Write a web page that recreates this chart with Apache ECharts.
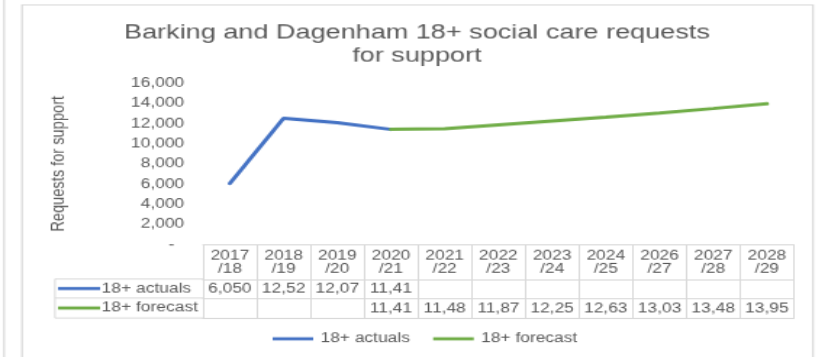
<!DOCTYPE html>
<html>
<head>
<meta charset="utf-8">
<script src="https://cdn.jsdelivr.net/npm/echarts@6/dist/echarts.min.js"></script>
<style>
  html, body { margin: 0; padding: 0; background: #fff; width: 820px; height: 357px; overflow: hidden; }
  /* chart is laid out at its natural size and stretched to fill the page */
  #chart { width: 565.5px; height: 324.5px; transform: scale(1.45, 1.1); transform-origin: 0 0; }
</style>
</head>
<body>
<div id="chart"></div>
<script>
// Financial years shown on the category axis / data table header
const categories = ['2017\n/18', '2018\n/19', '2019\n/20', '2020\n/21', '2021\n/22', '2022\n/23',
                    '2023\n/24', '2024\n/25', '2026\n/27', '2027\n/28', '2028\n/29'];
const seriesNames = ['18+ actuals', '18+ forecast'];
// Requests for support (adults 18+)
const actuals  = [6050, 12520, 12070, 11410, null, null, null, null, null, null, null];
const forecast = [null, null, null, 11410, 11480, 11870, 12250, 12630, 13030, 13480, 13950];
// Value axis ticks
const yTicks = [0, 2000, 4000, 6000, 8000, 10000, 12000, 14000, 16000];

const grey = '#595959';
const rule = '#d9d9d9';
const blue = '#4472C4';
const green = '#70AD47';
const font = "'Liberation Sans', Arial, sans-serif";

const fmt = v => (v == null ? '' : v.toLocaleString('en-GB'));

// Horizontal rules of the data table are extra category axes placed under the grid
function tableAxis(offset, values, margin) {
  return {
    type: 'category', data: categories, gridIndex: 0, position: 'bottom', offset: offset,
    axisLine: { show: true, lineStyle: { color: rule, width: 1 } },
    axisTick: { show: false },
    splitLine: { show: false },
    axisLabel: values ? {
      show: true, interval: 0, margin: margin, color: grey, fontSize: 12, fontFamily: font,
      width: 34, overflow: 'truncate', ellipsis: '',
      formatter: (v, i) => fmt(values[i])
    } : { show: false }
  };
}

// Table layout (chart coordinates)
const tblLeft = 37.9, tblRight = 140;
const rowTop = 221.8, row1 = 253.6, row2 = 270.9, row3 = 289.1;

const chart = echarts.init(document.getElementById('chart'));
chart.setOption({
  animation: false,
  backgroundColor: '#fff',
  textStyle: { fontFamily: font },
  title: {
    text: 'Barking and Dagenham 18+ social care requests\nfor support',
    left: 282.5, top: 14.5, textAlign: 'center',
    textStyle: { color: grey, fontSize: 18.67, fontWeight: 'normal', fontFamily: font, lineHeight: 21 }
  },
  legend: {
    data: seriesNames, left: 188, top: 302, padding: 0,
    icon: 'rect', itemWidth: 28, itemHeight: 2.8, itemGap: 16,
    textStyle: { color: grey, fontSize: 12, fontFamily: font }
  },
  grid: { left: 140, right: 18.6, top: 75.5, bottom: 102.7, containLabel: false },
  xAxis: [
    {
      type: 'category', data: categories, position: 'bottom',
      axisLine: { show: true, lineStyle: { color: rule, width: 1 } },
      axisTick: { show: true, interval: 0, length: row3 - rowTop, lineStyle: { color: rule, width: 1 } },
      splitLine: { show: false },
      axisLabel: { interval: 0, margin: 4, color: grey, fontSize: 12, fontFamily: font, lineHeight: 12.5 }
    },
    tableAxis(row1 - rowTop, actuals, 3),
    tableAxis(row2 - rowTop, forecast, 3),
    tableAxis(row3 - rowTop, null, 0)
  ],
  yAxis: {
    type: 'value', min: yTicks[0], max: yTicks[yTicks.length - 1], interval: yTicks[1] - yTicks[0],
    axisLine: { show: false }, axisTick: { show: false }, splitLine: { show: false },
    axisLabel: {
      color: grey, fontSize: 12, fontFamily: font, margin: 13,
      formatter: v => (v === 0 ? '-  ' : v.toLocaleString('en-GB'))
    },
    name: 'Requests for support', nameLocation: 'middle', nameGap: 93, nameRotate: 90,
    nameTextStyle: { color: grey, fontSize: 13.3, fontFamily: font }
  },
  series: [
    {
      name: seriesNames[0], type: 'line', data: actuals, xAxisIndex: 0,
      showSymbol: false, symbol: 'none', connectNulls: false,
      lineStyle: { color: blue, width: 3, cap: 'round' }, itemStyle: { color: blue }
    },
    {
      name: seriesNames[1], type: 'line', data: forecast, xAxisIndex: 0,
      showSymbol: false, symbol: 'none', connectNulls: false,
      lineStyle: { color: green, width: 3, cap: 'round' }, itemStyle: { color: green }
    }
  ],
  graphic: [
    // chart frame and the neighbouring frame edge
    { type: 'line', shape: { x1: 2.8, y1: 0, x2: 2.8, y2: 330 }, style: { stroke: rule, lineWidth: 1.2 }, silent: true },
    { type: 'rect', shape: { x: 15.2, y: 4.5, width: 545.5, height: 330 }, style: { fill: null, stroke: rule, lineWidth: 1.2 }, silent: true },
    // series-key column of the data table
    { type: 'line', shape: { x1: tblLeft, y1: row1, x2: tblRight, y2: row1 }, style: { stroke: rule, lineWidth: 1 }, silent: true },
    { type: 'line', shape: { x1: tblLeft, y1: row2, x2: tblRight, y2: row2 }, style: { stroke: rule, lineWidth: 1 }, silent: true },
    { type: 'line', shape: { x1: tblLeft, y1: row3, x2: tblRight, y2: row3 }, style: { stroke: rule, lineWidth: 1 }, silent: true },
    { type: 'line', shape: { x1: tblLeft, y1: row1, x2: tblLeft, y2: row3 }, style: { stroke: rule, lineWidth: 1 }, silent: true },
    { type: 'line', shape: { x1: 40, y1: (row1 + row2) / 2, x2: 69, y2: (row1 + row2) / 2 }, style: { stroke: blue, lineWidth: 2.8 }, silent: true },
    { type: 'text', x: 70.1, y: (row1 + row2) / 2, style: { text: seriesNames[0], fill: grey, font: '12px ' + font, textVerticalAlign: 'middle' }, silent: true },
    { type: 'line', shape: { x1: 40, y1: (row2 + row3) / 2, x2: 69, y2: (row2 + row3) / 2 }, style: { stroke: green, lineWidth: 2.8 }, silent: true },
    { type: 'text', x: 70.1, y: (row2 + row3) / 2, style: { text: seriesNames[1], fill: grey, font: '12px ' + font, textVerticalAlign: 'middle' }, silent: true }
  ]
});
</script>
</body>
</html>
